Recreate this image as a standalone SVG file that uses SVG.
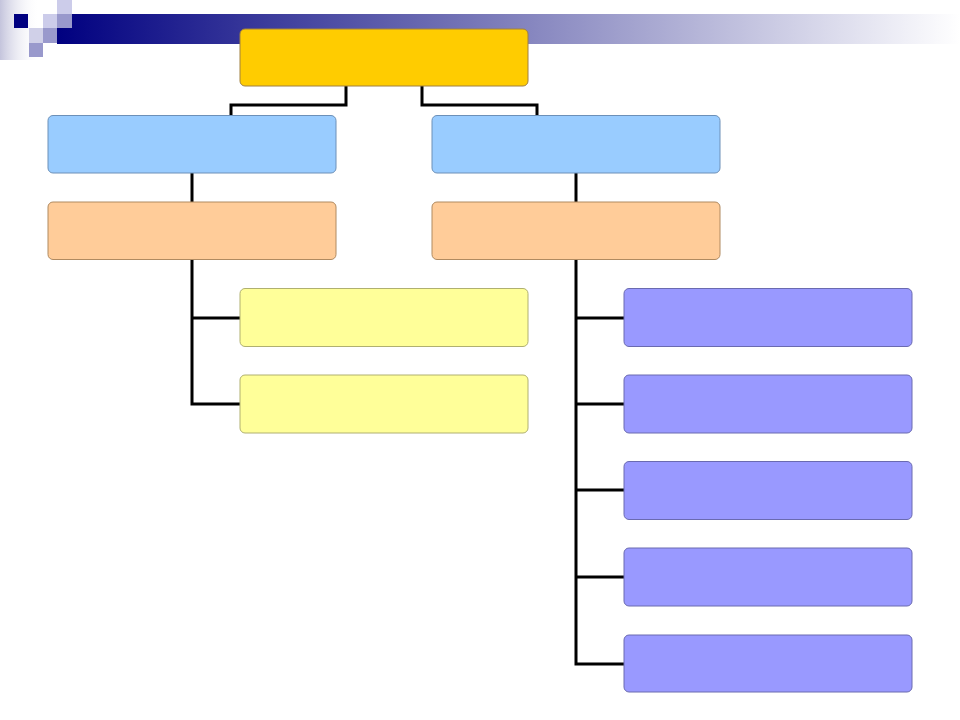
<svg xmlns="http://www.w3.org/2000/svg" width="960" height="720" viewBox="0 0 960 720">
<defs>
<linearGradient id="bar" x1="0" y1="0" x2="1" y2="0">
<stop offset="0" stop-color="#000080"/>
<stop offset="0.5" stop-color="#8080bc"/>
<stop offset="1" stop-color="#ffffff"/>
</linearGradient>
<linearGradient id="fade" x1="0" y1="0" x2="1" y2="0">
<stop offset="0" stop-color="#c4c4dc"/>
<stop offset="1" stop-color="#ffffff" stop-opacity="0"/>
</linearGradient>
<style>
.n rect{stroke-width:1;}
.gold{fill:#FFCC00;stroke:#a08040;}
.blue{fill:#99CCFF;stroke:#6c90b8;}
.peach{fill:#FFCC99;stroke:#b08a60;}
.yel{fill:#FFFF99;stroke:#b0b070;}
.pur{fill:#9999FF;stroke:#6a6ab0;}
#connectors path{fill:none;stroke:#000;stroke-width:3;stroke-linejoin:miter;}
</style>
</defs>
<rect width="960" height="720" fill="#ffffff"/>
<g id="decor">
<rect x="0" y="0" width="40" height="60" fill="url(#fade)"/>
<rect x="57" y="14" width="903" height="30" fill="url(#bar)"/>
<rect x="14" y="14" width="14" height="14" fill="#000080"/>
<rect x="57" y="0" width="15" height="14" fill="#ccccea"/>
<rect x="43" y="14" width="14" height="14" fill="#ccccea"/>
<rect x="57" y="14" width="15" height="14" fill="#9999cc"/>
<rect x="29" y="28" width="14" height="15" fill="#d0d0e8"/>
<rect x="43" y="28" width="14" height="15" fill="#9999cc"/>
<rect x="29" y="43" width="14" height="14" fill="#9999cc"/>
</g>
<g id="connectors">
<path d="M346,86 V105 H231 V115"/>
<path d="M422,86 V105 H537 V115"/>
<path d="M192,173 V202"/>
<path d="M576,173 V202"/>
<path d="M192,260 V404 H240 M192,318 H240"/>
<path d="M576,260 V664 H624 M576,318 H624 M576,404 H624 M576,490 H624 M576,577 H624"/>
</g>
<g id="root" class="n"><rect class="gold" x="240" y="29" width="288" height="57" rx="5"/></g>
<g id="l2-left" class="n"><rect class="blue" x="48" y="115.5" width="288" height="57.5" rx="5"/></g>
<g id="l2-right" class="n"><rect class="blue" x="432" y="115.5" width="288" height="57.5" rx="5"/></g>
<g id="l3-left" class="n"><rect class="peach" x="48" y="202" width="288" height="57.5" rx="5"/></g>
<g id="l3-right" class="n"><rect class="peach" x="432" y="202" width="288" height="57.5" rx="5"/></g>
<g id="y1" class="n"><rect class="yel" x="240" y="288.5" width="288" height="58" rx="5"/></g>
<g id="y2" class="n"><rect class="yel" x="240" y="375" width="288" height="58" rx="5"/></g>
<g id="p1" class="n"><rect class="pur" x="624" y="288.5" width="288" height="58" rx="5"/></g>
<g id="p2" class="n"><rect class="pur" x="624" y="375" width="288" height="58" rx="5"/></g>
<g id="p3" class="n"><rect class="pur" x="624" y="461.5" width="288" height="58" rx="5"/></g>
<g id="p4" class="n"><rect class="pur" x="624" y="548" width="288" height="58" rx="5"/></g>
<g id="p5" class="n"><rect class="pur" x="624" y="635" width="288" height="57" rx="5"/></g>
</svg>
